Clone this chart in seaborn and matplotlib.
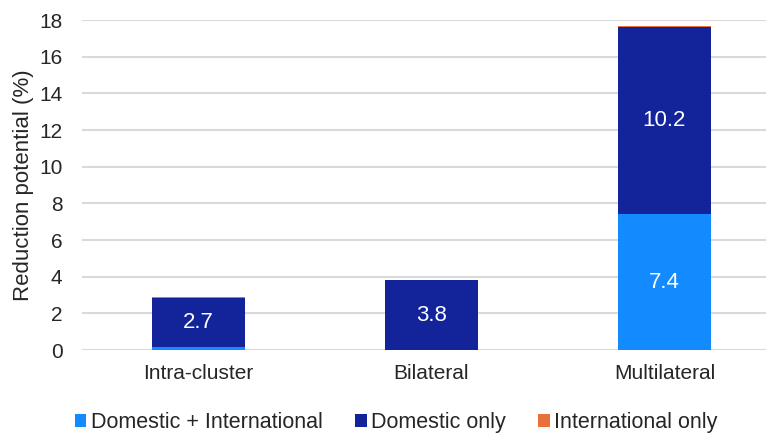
import pandas as pd
import matplotlib
matplotlib.use("Agg")
import matplotlib.pyplot as plt
import seaborn as sns

# données
categories = ["Intra-cluster", "Bilateral", "Multilateral"]
dom_intl = [0.15, 0.0, 7.4]
dom_only = [2.7, 3.8, 10.2]
intl_only = [0.05, 0.0, 0.08]
series_names = ["Domestic + International", "Domestic only", "International only"]
colors = ["#148AFF", "#13239A", "#E8703A"]

sns.set_theme(style="white")
plt.rcParams["font.family"] = ["Liberation Sans", "DejaVu Sans"]

fig = plt.figure(figsize=(7.66, 4.34), dpi=100)
ax = fig.add_axes([0.107, 0.1935, 0.893, 0.7604])

bottom = [0.0, 0.0, 0.0]
for name, vals, col in zip(series_names, [dom_intl, dom_only, intl_only], colors):
    df = pd.DataFrame({"cat": categories, "val": vals})
    sns.barplot(data=df, x="cat", y="val", color=col, width=0.4, saturation=1,
                bottom=bottom, linewidth=0, ax=ax, label=name, zorder=3)
    bottom = [b + v for b, v in zip(bottom, vals)]

# étiquettes blanches
for i, v in enumerate(dom_only):
    ax.text(i, dom_intl[i] + v / 2, f"{v:.1f}", ha="center", va="center",
            color="white", fontsize=16, zorder=4)
ax.text(2, dom_intl[2] / 2, f"{dom_intl[2]:.1f}", ha="center", va="center",
        color="white", fontsize=16, zorder=4)

ax.set_ylim(0, 18)
ax.set_yticks(range(0, 19, 2))
ax.set_xlim(-0.5, 2.436)
ax.yaxis.grid(True, color="#D9D9D9", linewidth=1.5, zorder=0)
for s in ax.spines.values():
    s.set_visible(False)
ax.tick_params(axis="y", labelsize=15, length=0, pad=14)
ax.tick_params(axis="x", labelsize=15, length=0, pad=10)
ax.set_xlabel("")
ax.set_ylabel("Reduction potential (%)", fontsize=16, labelpad=4)

handles, labels = ax.get_legend_handles_labels()
if ax.legend_:
    ax.legend_.remove()
fig.legend(handles, labels, loc="center", bbox_to_anchor=(0.517, 0.026), ncol=3,
           frameon=False, fontsize=15.5, handlelength=0.55, handleheight=0.55,
           handletextpad=0.2, columnspacing=1.5, borderpad=0)

fig.savefig("out.png", dpi=100)
